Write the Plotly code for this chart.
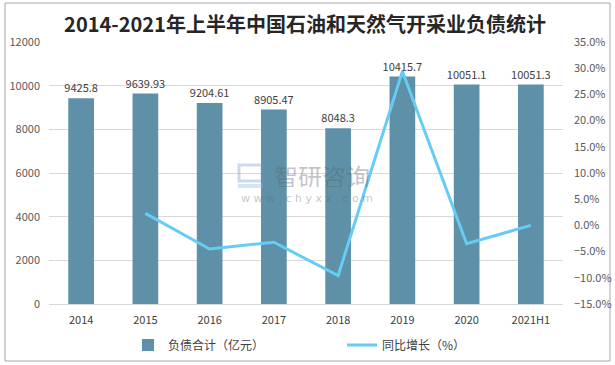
import plotly.graph_objects as go

categories = ["2014", "2015", "2016", "2017", "2018", "2019", "2020", "2021H1"]
debt_total = [9425.8, 9639.93, 9204.61, 8905.47, 8048.3, 10415.7, 10051.1, 10051.3]
yoy_categories = ["2015", "2016", "2017", "2018", "2019", "2020", "2021H1"]
yoy_growth = [2.3, -4.5, -3.2, -9.6, 29.4, -3.5, 0.0]
debt_labels = ["9425.8", "9639.93", "9204.61", "8905.47", "8048.3", "10415.7", "10051.1", "10051.3"]

BAR = "#5e91a7"
LINE = "#66ccf5"
CJK = "Noto Sans CJK SC"

# plot area in pixels (for paper-coordinate conversion of decorations)
L, R, T, B = 49, 563, 42, 304
W, H = R - L, B - T
px = lambda x: (x - L) / W
py = lambda y: (B - y) / H

fig = go.Figure()
fig.add_trace(go.Bar(
    x=categories, y=debt_total, name="负债合计（亿元）",
    marker=dict(color=BAR, line=dict(width=0)),
    text=debt_labels, textposition="outside", cliponaxis=False, constraintext="none",
    textfont=dict(size=11, color="#404040", family=CJK),
    width=0.4, yaxis="y",
))
fig.add_trace(go.Scatter(
    x=yoy_categories, y=yoy_growth, name="同比增长（%）",
    mode="lines", line=dict(color=LINE, width=3),
    yaxis="y2",
))

# watermark
WM = "rgba(90,100,110,0.38)"
fig.add_annotation(x=px(322), y=py(175), xref="paper", yref="paper", text="智研咨询",
                   showarrow=False, font=dict(size=24, color=WM, family=CJK),
                   borderpad=0, height=24, valign="middle")
fig.add_annotation(x=px(307), y=py(198), xref="paper", yref="paper", text="w w w . c h y x x . c o m",
                   showarrow=False, font=dict(size=11, color=WM, family="DejaVu Sans"),
                   borderpad=0)
fig.add_shape(type="rect", xref="paper", yref="paper", x0=px(239), x1=px(262), y0=py(181), y1=py(165),
              line=dict(color="rgba(110,150,190,0.35)", width=3), fillcolor="rgba(0,0,0,0)")
fig.add_shape(type="rect", xref="paper", yref="paper", x0=px(238), x1=px(263), y0=py(188), y1=py(184),
              line=dict(width=0), fillcolor="rgba(130,180,220,0.35)")

# outer border
fig.add_shape(type="rect", xref="paper", yref="paper",
              x0=px(5), x1=px(610), y0=py(361), y1=py(3),
              line=dict(color="#a6a6a6", width=1), fillcolor="rgba(0,0,0,0)", layer="below")

fig.update_layout(
    width=615, height=365,
    margin=dict(l=L, r=615 - R, t=T, b=365 - B, autoexpand=False),
    paper_bgcolor="white", plot_bgcolor="white",
    title=dict(text="<b>2014-2021年上半年中国石油和天然气开采业负债统计</b>",
               x=305 / 615, xanchor="center", y=1 - 25 / 365, yanchor="middle",
               font=dict(size=20, color="#262626", family=CJK)),
    font=dict(family=CJK, size=11, color="#595959"),
    bargap=0.6,
    xaxis=dict(showgrid=False, showline=True, linecolor="#d9d9d9", linewidth=1,
               ticks="", tickfont=dict(size=11, color="#404040"), ticklabelstandoff=6),
    yaxis=dict(range=[0, 12000], dtick=2000, tickformat="d", showgrid=True, gridcolor="#d9d9d9",
               zeroline=False, showline=False, ticks="", ticklabelstandoff=8,
               tickfont=dict(size=11, color="#595959")),
    yaxis2=dict(range=[-15, 35], dtick=5, overlaying="y", side="right",
                showgrid=False, zeroline=False, showline=False, ticks="",
                tickformat=".1f", ticksuffix="%", ticklabelstandoff=10,
                tickfont=dict(size=11, color="#595959")),
    showlegend=True,
    legend=dict(orientation="h", x=px(128), xanchor="left",
                y=py(345), yanchor="middle",
                entrywidth=169, entrywidthmode="pixels",
                font=dict(size=12, color="#404040", family=CJK),
                bgcolor="rgba(0,0,0,0)"),
)

fig.write_html("out.html", config={"displayModeBar": False},
               post_script="document.body.style.margin='0';")
